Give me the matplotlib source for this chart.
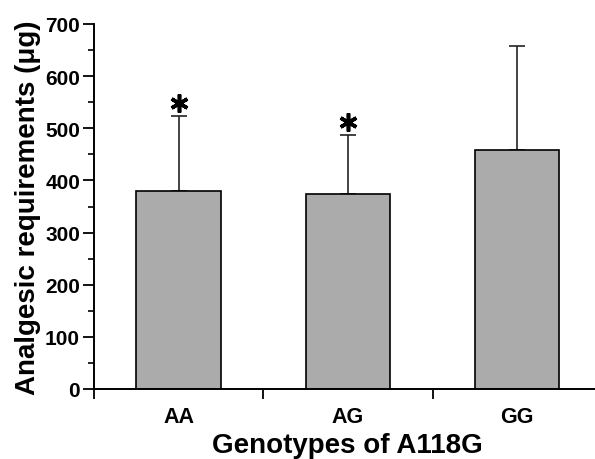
import matplotlib
matplotlib.use("Agg")
import matplotlib.pyplot as plt
from matplotlib.ticker import MultipleLocator, FixedLocator, NullFormatter

genotypes = ["AA", "AG", "GG"]
means = [380, 374, 458]
sd_upper = [143, 113, 199]
significant = [True, True, False]

plt.rcParams['font.family'] = ['Liberation Sans', 'DejaVu Sans']
plt.rcParams['font.weight'] = 'bold'

fig = plt.figure(figsize=(5.95, 4.60), dpi=100)
ax = fig.add_axes([94 / 595, 70 / 460, 501 / 595, 365 / 460])

x = list(range(len(genotypes)))
ax.bar(x, means, width=0.5, color='#ababab', edgecolor='black', linewidth=1.2, zorder=2)
ax.errorbar(x, means, yerr=[[0] * len(x), sd_upper], fmt='none', ecolor='#222222',
            elinewidth=1.2, capsize=6, capthick=1.2, zorder=1)

for xi, m, e, s in zip(x, means, sd_upper, significant):
    if s:
        ax.plot(xi, m + e + 25, marker=(6, 2, 0), markersize=13, mew=2.6, color='black')

ax.set_xlim(-0.5, 2.46)
ax.set_ylim(0, 700)

ax.spines['top'].set_visible(False)
ax.spines['right'].set_visible(False)
ax.spines['left'].set_linewidth(1.4)
ax.spines['bottom'].set_linewidth(1.4)

ax.set_xticks(x)
ax.set_xticklabels(genotypes, fontsize=15.5, fontweight='bold')
ax.tick_params(axis='x', which='major', length=0, pad=12)
ax.xaxis.set_minor_locator(FixedLocator([-0.5, 0.5, 1.5]))
ax.xaxis.set_minor_formatter(NullFormatter())
ax.tick_params(axis='x', which='minor', length=7, width=1.3, direction='out')

ax.yaxis.set_major_locator(MultipleLocator(100))
ax.yaxis.set_minor_locator(MultipleLocator(50))
ax.tick_params(axis='y', which='major', length=8, width=1.3, labelsize=15, pad=2)
ax.tick_params(axis='y', which='minor', length=4, width=1.2)
for lab in ax.get_yticklabels():
    lab.set_fontweight('bold')

ax.set_xlabel("Genotypes of A118G", fontsize=20, fontweight='bold')
ax.xaxis.set_label_coords(0.505, -0.118)
ax.set_ylabel("Analgesic requirements (\u03bcg)", fontsize=20, fontweight='bold', labelpad=3)

fig.savefig("out.png", dpi=100)
